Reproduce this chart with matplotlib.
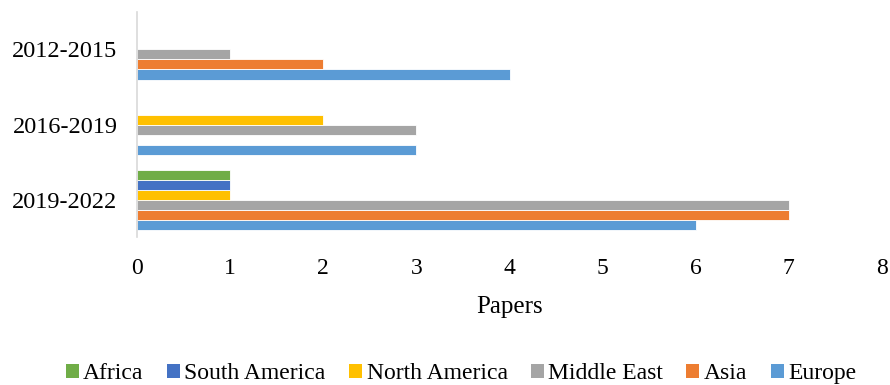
import matplotlib
matplotlib.use("Agg")
import matplotlib.pyplot as plt
import numpy as np
from matplotlib.patches import Patch

plt.rcParams['font.family'] = ['Liberation Serif', 'DejaVu Serif']

periods = ["2019-2022", "2016-2019", "2012-2015"]
regions = ["Europe", "Asia", "Middle East", "North America", "South America", "Africa"]
colors = ["#5B9BD5", "#ED7D31", "#A5A5A5", "#FFC000", "#4472C4", "#70AD47"]

europe = [6, 3, 4]
asia = [7, 0, 2]
middle_east = [7, 3, 1]
north_america = [1, 2, 0]
south_america = [1, 0, 0]
africa = [1, 0, 0]
series = [europe, asia, middle_east, north_america, south_america, africa]

fig = plt.figure(figsize=(8.9, 3.85), dpi=100)
ax = fig.add_axes([0.154, 0.384, 0.837, 0.585])

y = np.arange(len(periods))
n = len(series)
bar_h = 0.8 / n
for i, (vals, col) in enumerate(zip(series, colors)):
    offs = -0.4 + bar_h * (i + 0.5)
    v = np.array(vals, dtype=float)
    mask = v > 0
    ax.barh(y[mask] + offs, v[mask], height=bar_h, color=col,
            edgecolor="white", linewidth=0.6)

ax.set_xlim(0, 8)
ax.set_ylim(-0.5, 2.5)
ax.set_yticks(y)
ax.set_yticklabels(periods, fontsize=17.5)
ax.set_xticks(range(0, 9))
ax.tick_params(axis='x', labelsize=17, length=0, pad=15)
ax.tick_params(axis='y', length=0, pad=14)
for s in ["top", "right", "bottom"]:
    ax.spines[s].set_visible(False)
ax.spines["left"].set_color("#D9D9D9")
ax.spines["left"].set_linewidth(1.2)
ax.set_xlabel("Papers", fontsize=18, labelpad=12)

handles = [Patch(facecolor=c, edgecolor='none') for c in colors[::-1]]
fig.legend(handles, regions[::-1], loc="center", bbox_to_anchor=(0.518, 0.029),
           ncol=6, frameon=False, fontsize=17, handlelength=0.55, handleheight=0.55,
           handletextpad=0.2, columnspacing=0.98)

fig.savefig("out.png", dpi=100)
